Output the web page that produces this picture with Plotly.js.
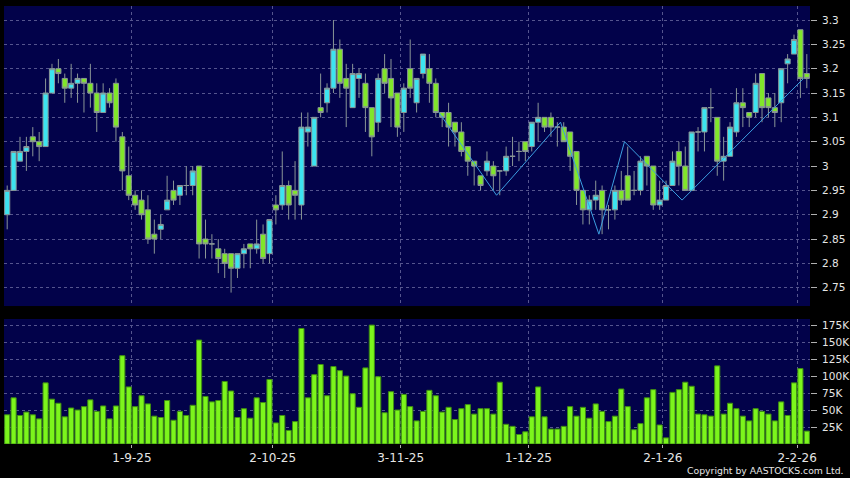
<!DOCTYPE html>
<html>
<head>
<meta charset="utf-8">
<script src="https://cdn.plot.ly/plotly-3.0.1.min.js"></script>
<style>
html,body{margin:0;padding:0;background:#000;}
#chart{width:850px;height:478px;}
</style>
</head>
<body>
<div id="chart"></div>
<script>
// Daily prices (trading-day index 0 = first bar on the chart)
const opens = [2.90,2.95,3.01,3.03,3.06,3.05,3.04,3.15,3.20,3.18,
3.16,3.17,3.18,3.17,3.15,3.11,3.15,3.17,3.06,2.98,
2.94,2.93,2.91,2.86,2.87,2.91,2.95,2.94,2.96,2.96,
3.00,2.85,2.84,2.83,2.82,2.82,2.79,2.82,2.84,2.83,
2.86,2.82,2.92,2.92,2.96,2.95,2.92,3.07,3.00,3.12,
3.13,3.16,3.24,3.18,3.12,3.18,3.17,3.12,3.09,3.20,
3.18,3.15,3.11,3.20,3.13,3.19,3.20,3.17,3.11,3.11,
3.09,3.07,3.04,3.01,2.98,2.99,3.00,2.99,2.99,3.02,
3.03,3.05,3.04,3.09,3.10,3.10,3.08,3.08,3.07,3.03,
2.95,2.91,2.93,2.95,2.91,2.91,2.95,2.98,2.95,2.95,
3.02,3.00,2.92,2.93,2.96,3.03,3.00,2.95,3.07,3.07,
3.12,3.10,3.01,3.02,3.07,3.13,3.11,3.11,3.19,3.14,
3.12,3.13,3.21,3.23,3.28,3.19];
const highs = [2.96,3.03,3.06,3.06,3.08,3.07,3.18,3.21,3.22,3.19,
3.21,3.19,3.18,3.21,3.17,3.17,3.16,3.18,3.07,3.04,
2.95,2.95,2.94,2.89,2.90,2.98,2.97,2.96,3.00,3.00,
3.00,2.89,2.86,2.85,2.83,2.82,2.82,2.84,2.84,2.89,
2.88,2.89,2.94,3.03,2.97,3.01,3.11,3.11,3.10,3.19,
3.17,3.30,3.26,3.21,3.21,3.20,3.19,3.12,3.19,3.23,
3.22,3.15,3.17,3.26,3.18,3.23,3.23,3.18,3.11,3.13,
3.09,3.09,3.04,3.01,2.98,3.03,3.01,2.99,3.04,3.06,
3.05,3.05,3.09,3.13,3.10,3.11,3.09,3.09,3.07,3.03,
2.95,2.94,2.97,2.96,2.92,2.96,2.99,3.04,2.99,3.02,
3.02,3.00,2.97,2.97,3.03,3.05,3.04,3.07,3.08,3.12,
3.16,3.10,3.06,3.09,3.16,3.16,3.11,3.19,3.19,3.15,
3.15,3.20,3.23,3.27,3.28,3.23];
const lows = [2.87,2.95,3.01,2.99,3.02,3.01,3.04,3.15,3.17,3.13,
3.14,3.13,3.11,3.12,3.07,3.11,3.12,3.05,2.95,2.93,
2.91,2.89,2.84,2.82,2.85,2.91,2.92,2.92,2.94,2.94,
2.81,2.81,2.81,2.78,2.77,2.74,2.77,2.79,2.79,2.82,
2.80,2.80,2.88,2.91,2.89,2.89,2.89,3.04,3.00,3.10,
3.11,3.15,3.14,3.08,3.12,3.14,3.07,3.02,3.07,3.15,
3.08,3.06,3.07,3.14,3.11,3.18,3.13,3.10,3.08,3.04,
3.04,3.02,2.98,2.96,2.95,2.98,2.95,2.94,2.98,3.00,
3.01,3.01,3.03,3.05,3.07,3.06,3.04,3.05,2.99,2.92,
2.88,2.88,2.91,2.86,2.87,2.89,2.92,2.93,2.94,2.94,
2.96,2.91,2.91,2.93,2.96,2.96,2.95,2.95,3.03,3.03,
3.09,2.98,2.97,3.02,3.06,3.08,3.08,3.10,3.09,3.10,
3.08,3.09,3.17,3.23,3.14,3.16];
const closes = [2.95,3.03,3.03,3.04,3.05,3.04,3.15,3.20,3.19,3.16,
3.17,3.18,3.17,3.15,3.11,3.15,3.13,3.08,2.99,2.94,
2.92,2.90,2.85,2.85,2.88,2.93,2.93,2.96,2.96,2.99,
2.84,2.84,2.84,2.81,2.80,2.79,2.82,2.83,2.83,2.84,
2.81,2.89,2.91,2.96,2.92,2.94,3.08,3.08,3.10,3.11,
3.16,3.24,3.17,3.16,3.19,3.19,3.12,3.06,3.18,3.17,
3.14,3.08,3.16,3.16,3.18,3.23,3.17,3.11,3.10,3.08,
3.07,3.03,3.01,3.00,2.96,3.01,2.98,2.99,3.02,3.02,
3.03,3.03,3.09,3.10,3.08,3.08,3.08,3.05,3.02,2.95,
2.91,2.93,2.94,2.91,2.91,2.95,2.93,2.93,2.95,3.01,
3.00,2.92,2.93,2.96,3.01,3.00,2.95,3.07,3.07,3.12,
3.12,3.01,3.02,3.08,3.13,3.12,3.10,3.17,3.12,3.12,
3.11,3.20,3.22,3.26,3.18,3.18];
// Daily volume, in thousands of shares
const volumesK = [43,68,42,47,43,37,90,66,60,40,
53,50,55,65,48,56,37,56,130,84,
55,71,59,41,39,64,35,48,42,57,
153,70,62,64,92,78,39,52,38,68,
61,95,31,42,20,33,170,68,102,117,
71,114,108,100,74,54,112,175,99,46,
77,50,73,55,34,48,79,71,47,54,
36,52,58,44,52,52,44,91,29,26,
14,18,40,84,40,22,22,26,55,41,
54,38,59,48,33,41,81,55,21,30,
68,80,28,9,76,80,91,85,44,43,
41,115,44,60,52,41,34,52,48,44,
34,62,42,90,111,19];
// Zig-zag trend line: turning points (trading-day index, price)
const zigzagDays = [67,76,86,92,96,105,124];
const zigzagPrices = [3.11,2.94,3.09,2.86,3.05,2.93,3.18];
// Date axis labels (trading-day index of each labelled date)
const dateTickDays = [19,41,61,81,102,123];
const dateTickLabels = ["1-9-25","2-10-25","3-11-25","1-12-25","2-1-26","2-2-26"];
const priceTicks = [2.75,2.8,2.85,2.9,2.95,3,3.05,3.1,3.15,3.2,3.25,3.3];
const priceTickLabels = ["2.75","2.8","2.85","2.9","2.95","3","3.05","3.1","3.15","3.2","3.25","3.3"];
const volumeTicksK = [25,50,75,100,125,150,175];
const volumeTickLabels = ["25K","50K","75K","100K","125K","150K","175K"];

const days = opens.map((_, i) => i);
const gridCol = '#55558e';
const gridDash = '3px,3px';
const labelFont = {family: 'DejaVu Sans, Verdana, sans-serif', size: 10.5, color: '#e6e6e6'};

const traces = [
  {
    type: 'candlestick', x: days, open: opens, high: highs, low: lows, close: closes,
    xaxis: 'x', yaxis: 'y',
    increasing: {line: {color: '#8a9696', width: 1}, fillcolor: '#3ce4f0'},
    decreasing: {line: {color: '#8a9696', width: 1}, fillcolor: '#80e62a'},
    whiskerwidth: 0, hoverinfo: 'skip', showlegend: false
  },
  {
    type: 'scatter', mode: 'lines',
    x: zigzagDays.map(d => d + 0.5), y: zigzagPrices,
    xaxis: 'x', yaxis: 'y',
    line: {color: '#3c9ee0', width: 1}, hoverinfo: 'skip', showlegend: false
  },
  {
    type: 'bar', x: days, y: volumesK.map(v => v * 1000),
    xaxis: 'x2', yaxis: 'y2',
    marker: {color: '#7cf51c', line: {color: '#3f8f12', width: 1}},
    hoverinfo: 'skip', showlegend: false
  }
];

const xGridVals = dateTickDays.map(d => d + 0.5);

const layout = {
  width: 850, height: 478,
  paper_bgcolor: '#000000', plot_bgcolor: '#02024a',
  margin: {l: 4, r: 40, t: 6, b: 34},
  bargap: 0.2, boxgap: 0.2, boxgroupgap: 0,
  showlegend: false,
  xaxis: {
    domain: [0, 1], anchor: 'y', range: [-0.5, 125.5],
    rangeslider: {visible: false},
    tickvals: xGridVals, ticktext: dateTickLabels, showticklabels: false,
    showgrid: true, gridcolor: gridCol, griddash: gridDash, gridwidth: 1,
    zeroline: false, showline: false, ticks: ''
  },
  yaxis: {
    domain: [0.315, 1], anchor: 'x', side: 'right',
    range: [2.7124, 3.3288],
    tickvals: priceTicks, ticktext: priceTickLabels,
    showgrid: true, gridcolor: gridCol, griddash: gridDash, gridwidth: 1,
    zeroline: false, showline: false,
    ticks: 'outside', ticklen: 6, tickcolor: '#b0b0b0', tickwidth: 1,
    ticklabelstandoff: 3,
    tickfont: labelFont
  },
  xaxis2: {
    domain: [0, 1], anchor: 'y2', range: [-0.5, 125.5], matches: 'x',
    tickvals: xGridVals, ticktext: dateTickLabels,
    showgrid: true, gridcolor: gridCol, griddash: gridDash, gridwidth: 1,
    zeroline: false, showline: false,
    ticks: 'outside', ticklen: 3, tickcolor: '#b0b0b0',
    tickfont: {family: 'DejaVu Sans, Verdana, sans-serif', size: 12, color: '#e6e6e6'}
  },
  yaxis2: {
    domain: [0, 0.2854], anchor: 'x2', side: 'right',
    range: [0, 184000],
    tickvals: volumeTicksK.map(v => v * 1000), ticktext: volumeTickLabels,
    showgrid: true, gridcolor: gridCol, griddash: gridDash, gridwidth: 1,
    zeroline: false, showline: false,
    ticks: 'outside', ticklen: 6, tickcolor: '#b0b0b0', tickwidth: 1,
    ticklabelstandoff: 3,
    tickfont: labelFont
  },
  annotations: [{
    text: 'Copyright by AASTOCKS.com Ltd.',
    xref: 'paper', yref: 'paper', x: 1.0447, y: -0.0616,
    xanchor: 'right', yanchor: 'middle', showarrow: false,
    font: {family: 'DejaVu Sans, Verdana, sans-serif', size: 9.3, color: '#e6e6e6'}
  }]
};

Plotly.newPlot('chart', traces, layout, {displayModeBar: false, staticPlot: true});
</script>
</body>
</html>
